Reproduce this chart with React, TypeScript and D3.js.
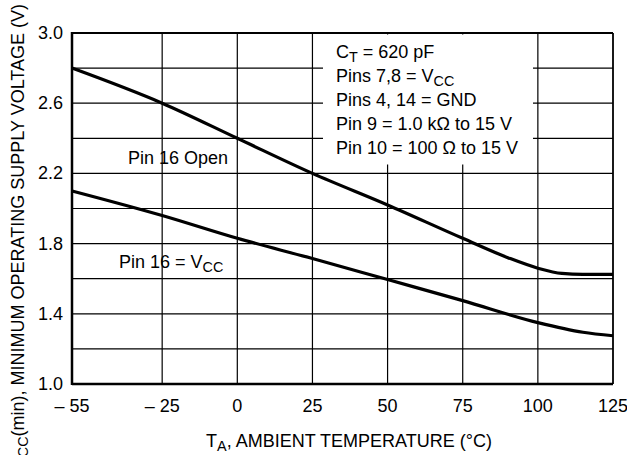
import React from "react";
import * as d3 from "d3";

const xTicks = [-55, -25, 0, 25, 50, 75, 100, 125];
const yTicks = [1.0, 1.4, 1.8, 2.2, 2.6, 3.0];
const yGrid = [1.0, 1.2, 1.4, 1.6, 1.8, 2.0, 2.2, 2.4, 2.6, 2.8, 3.0];

const tempOpen = [-55, -25, 0, 25, 50, 75, 90, 100, 108, 115, 125];
const voltOpen = [2.8, 2.6, 2.4, 2.2, 2.02, 1.83, 1.72, 1.66, 1.63, 1.625, 1.625];

const tempVcc = [-55, -25, 0, 25, 50, 75, 100, 115, 125];
const voltVcc = [2.1, 1.96, 1.83, 1.715, 1.595, 1.475, 1.35, 1.295, 1.275];

const noteLines = ["C_T = 620 pF", "Pins 7,8 = V_CC", "Pins 4, 14 = GND", "Pin 9 = 1.0 kΩ to 15 V", "Pin 10 = 100 Ω to 15 V"];

const FONT = "'Liberation Sans Narrow', 'Arial Narrow', 'Liberation Sans', sans-serif";

const fmtX = (v: number) => (v < 0 ? `\u2013 ${Math.abs(v)}` : `${v}`);

function Sub({ text }: { text: string }) {
  const parts = text.split(/_([A-Z]+)/);
  return (
    <>
      {parts.map((p, i) =>
        i % 2 === 1 ? (
          <tspan key={i} dy={4} fontSize="0.8em">{p}</tspan>
        ) : (
          <tspan key={i} dy={i === 0 ? 0 : -4}>{p}</tspan>
        )
      )}
    </>
  );
}

export default function App() {
  const W = 627, H = 455;
  const left = 72, right = 613, top = 33, bottom = 384;
  const x = d3.scaleLinear().domain([-55, 125]).range([left, right]);
  const y = d3.scaleLinear().domain([1.0, 3.0]).range([bottom, top]);
  const line = d3.line<[number, number]>().x(d => x(d[0])).y(d => y(d[1])).curve(d3.curveMonotoneX);
  const openPts = tempOpen.map((t, i) => [t, voltOpen[i]] as [number, number]);
  const vccPts = tempVcc.map((t, i) => [t, voltVcc[i]] as [number, number]);

  return (
    <svg width={W} height={H} style={{ position: "absolute", left: 0, top: 0, background: "#fff" }} fontFamily={FONT}>
      <rect width={W} height={H} fill="#fff" />
      {yGrid.map(v => (
        <line key={"h" + v} x1={left} x2={right} y1={y(v)} y2={y(v)} stroke="#000" strokeWidth={1.2} />
      ))}
      {xTicks.map(v => (
        <line key={"v" + v} x1={x(v)} x2={x(v)} y1={top} y2={bottom} stroke="#000" strokeWidth={1.2} />
      ))}
      <rect x={323} y={top + 1.5} width={210} height={130} fill="#fff" />
      <path d={line(openPts) || ""} fill="none" stroke="#000" strokeWidth={3.2} />
      <path d={line(vccPts) || ""} fill="none" stroke="#000" strokeWidth={3.2} />
      <line x1={left} x2={left} y1={top - 1} y2={bottom + 1} stroke="#000" strokeWidth={2.5} />
      <line x1={left} x2={right} y1={bottom} y2={bottom} stroke="#000" strokeWidth={2.5} />
      <line x1={left} x2={right} y1={top} y2={top} stroke="#000" strokeWidth={1.8} />
      <line x1={right} x2={right} y1={top} y2={bottom} stroke="#000" strokeWidth={1.5} />
      {yTicks.map(v => (
        <text key={"yl" + v} x={63} y={y(v) + 6} textAnchor="end" fontSize={18}>{v.toFixed(1)}</text>
      ))}
      {xTicks.map(v => (
        <text key={"xl" + v} x={x(v)} y={412} textAnchor="middle" fontSize={18}>{fmtX(v)}</text>
      ))}
      <text x={349} y={447} textAnchor="middle" fontSize={18}>
        <Sub text="T_A, AMBIENT TEMPERATURE (°C)" />
      </text>
      <text transform="translate(24,4) rotate(-90)" textAnchor="end" fontSize={18}>
        <Sub text="V_CC(min), MINIMUM OPERATING SUPPLY VOLTAGE (V)" />
      </text>
      <text x={228} y={164} textAnchor="end" fontSize={18}>Pin 16 Open</text>
      <text x={119} y={268} fontSize={18}>
        <Sub text="Pin 16 = V_CC" />
      </text>
      {noteLines.map((s, i) => (
        <text key={"n" + i} x={336} y={58 + i * 24} fontSize={18}>
          <Sub text={s} />
        </text>
      ))}
    </svg>
  );
}
